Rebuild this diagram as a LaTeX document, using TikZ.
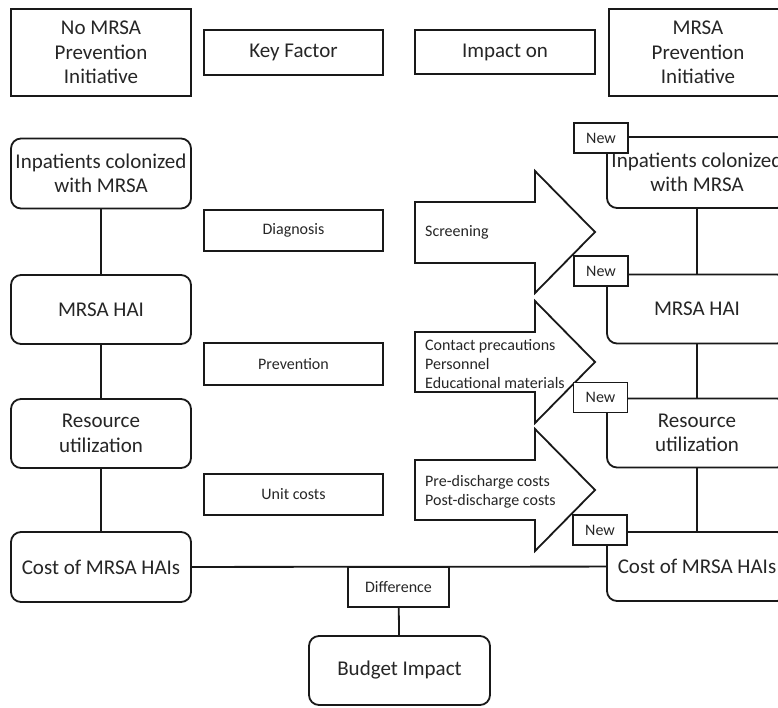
\documentclass[tikz,border=0pt]{standalone}
\usepackage{fontspec}
\setmainfont{Carlito}
\begin{document}
\begin{tikzpicture}[x=1pt,y=-1pt,
  big/.style={font=\fontsize{21}{24.5}\selectfont},
  small/.style={font=\fontsize{16}{19}\selectfont},
  ln/.style={line width=1.8pt, draw=black!90},
  rbox/.style={ln, draw, rounded corners=10pt, fill=white, minimum width=180pt, minimum height=69pt, align=center, inner sep=0pt, big, text=black!85},
  sbox/.style={ln, draw, fill=white, align=center, inner sep=0pt, text=black!85},
  hbox/.style={sbox, big},
  kbox/.style={sbox, small, minimum width=179pt, minimum height=41pt},
  newbox/.style={sbox, small, minimum width=54pt, minimum height=30pt},
  arrowshape/.style={ln, fill=white, line join=miter},
  atext/.style={anchor=west, align=left, small, inner sep=0pt, text=black!85}
]
\useasboundingbox (0,0) rectangle (778,707);
\clip (0,0) rectangle (778,707);

% headers
\node[hbox, minimum width=180pt, minimum height=87pt] (h1) at (101,52.5) {No MRSA\\Prevention\\Initiative};
\node[hbox, minimum width=179pt, minimum height=45pt] (h2) at (293.5,52.5) {Key Factor};
\node[hbox, minimum width=180pt, minimum height=44pt] (h3) at (505,52) {Impact on};
\node[hbox, minimum width=178pt, minimum height=87pt] (h4) at (698,52.5) {MRSA\\Prevention\\Initiative};

% left column
\node[rbox, minimum height=70pt] (inpL) at (101,173.5) {Inpatients colonized\\with MRSA};
\node[rbox] (haiL) at (101,309.5) {MRSA HAI};
\node[rbox] (resL) at (101,433.5) {Resource\\utilization};
\node[rbox, minimum height=70pt] (costL) at (101,567) {Cost of MRSA HAIs};
\draw[ln] (inpL) -- (haiL);
\draw[ln] (haiL) -- (resL);
\draw[ln] (resL) -- (costL);

% key factors
\node[kbox] (kf1) at (293.5,230.5) {Diagnosis};
\node[kbox, minimum height=42pt] (kf2) at (293.5,364) {Prevention};
\node[kbox] (kf3) at (293.5,494.5) {Unit costs};

% arrows
\draw[arrowshape] (415,202) -- (535,202) -- (535,171) -- (595,232) -- (535,293) -- (535,263) -- (415,263) -- cycle;
\draw[arrowshape] (415,332) -- (535,332) -- (535,301) -- (595,362) -- (535,423) -- (535,392) -- (415,392) -- cycle;
\draw[arrowshape] (415,460) -- (535,460) -- (535,429) -- (595,490) -- (535,551) -- (535,520) -- (415,520) -- cycle;
\node[atext] (a1) at (425,232) {Screening};
\node[atext] (a2) at (425,364) {Contact precautions\\Personnel\\Educational materials};
\node[atext] (a3) at (425,492) {Pre-discharge costs\\Post-discharge costs};

% right column
\node[rbox, minimum height=71pt] (inpR) at (697,172.5) {Inpatients colonized\\with MRSA};
\node[rbox] (haiR) at (697,309) {MRSA HAI};
\node[rbox] (resR) at (697,433) {Resource\\utilization};
\node[rbox] (costR) at (697,566.5) {Cost of MRSA HAIs};
\draw[ln] (inpR) -- (haiR);
\draw[ln] (haiR) -- (resR);
\draw[ln] (resR) -- (costR);
\node[newbox] (n1) at (601,138) {New};
\node[newbox] (n2) at (601,271) {New};
\node[newbox] (n3) at (600.5,397.5) {New};
\node[newbox] (n4) at (600,530) {New};

% bottom
\draw[ln] (costL) -- (costR);
\node[sbox, small, minimum width=101pt, minimum height=40pt] (diff) at (398.5,587) {Difference};
\node[rbox, minimum width=181pt] (budget) at (399.5,670.5) {Budget Impact};
\draw[ln] (diff) -- (budget);
\end{tikzpicture}
\end{document}
